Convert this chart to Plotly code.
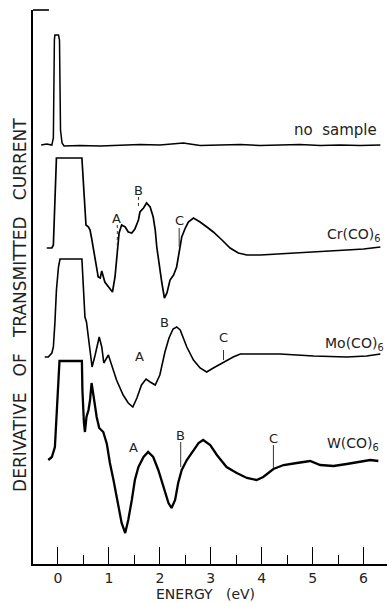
import plotly.graph_objects as go

# ---------------- data (energy in eV, signal in arbitrary offset units) -------------
ns_e = [-0.33, -0.22, -0.12, -0.09, -0.07, -0.06, 0.01, 0.03, 0.05, 0.08, 0.12, 0.43, 0.83, 1.22,
        1.61, 2.00, 2.46, 2.79, 3.18, 3.58, 3.97, 4.36, 4.75, 5.15, 5.54, 5.93, 6.33]
ns_y = [41.9, 42.0, 41.9, 42.6, 52.4, 52.9, 52.9, 52.4, 43.4, 42.1, 41.8, 41.85, 41.8, 41.9,
        41.95, 41.9, 42.1, 41.85, 41.9, 41.95, 41.85, 41.9, 41.95, 41.85, 41.9, 41.85, 41.9]

cr_e = [-0.22, -0.12, -0.09, -0.06, -0.03, 0.47, 0.50, 0.55, 0.60, 0.63, 0.66, 0.73, 0.79, 0.83,
        0.86, 0.92, 0.99, 1.07, 1.12, 1.17, 1.20, 1.25, 1.32, 1.38, 1.45, 1.51, 1.58, 1.61, 1.68,
        1.74, 1.81, 1.87, 1.91, 1.94, 1.99, 2.04, 2.09, 2.14, 2.20, 2.27, 2.33, 2.38, 2.43, 2.50,
        2.56, 2.66, 2.79, 2.95, 3.05, 3.22, 3.38, 3.54, 3.71, 3.97, 4.36, 4.69, 5.02, 5.34, 5.67,
        6.00, 6.33]
cr_y = [31.6, 31.6, 31.9, 36.4, 40.6, 40.6, 38.1, 33.9, 33.7, 33.4, 32.6, 30.4, 28.7, 28.6,
        29.3, 28.2, 27.7, 27.2, 28.7, 31.4, 33.1, 33.9, 33.7, 33.2, 33.1, 33.5, 34.4, 35.2, 35.6,
        36.1, 35.7, 34.7, 33.4, 31.7, 29.7, 28.1, 26.6, 27.1, 28.4, 28.9, 29.7, 31.1, 32.7, 33.6,
        34.2, 34.6, 34.2, 33.6, 33.2, 32.4, 31.6, 31.1, 30.9, 30.9, 31.0, 31.1, 31.2, 31.3, 31.4,
        31.5, 31.7]

mo_e = [-0.26, -0.19, -0.12, -0.09, -0.06, -0.03, 0.01, 0.04, 0.47, 0.50, 0.53, 0.56, 0.60, 0.63,
        0.67, 0.73, 0.81, 0.86, 0.90, 0.99, 1.05, 1.15, 1.28, 1.38, 1.47, 1.55, 1.64, 1.73, 1.81,
        1.91, 2.00, 2.10, 2.18, 2.26, 2.33, 2.40, 2.53, 2.66, 2.79, 2.92, 3.05, 3.25, 3.44, 3.58,
        4.03, 4.36, 5.02, 5.67, 6.06, 6.33]
mo_y = [20.7, 20.7, 21.1, 21.7, 24.1, 27.4, 29.7, 30.5, 30.5, 27.7, 24.7, 24.2, 22.7, 21.4,
        19.7, 20.9, 22.7, 21.7, 20.1, 20.9, 20.0, 18.4, 16.9, 16.1, 15.7, 16.6, 17.9, 18.5, 18.2,
        17.9, 18.9, 21.2, 22.6, 23.5, 23.7, 23.4, 21.7, 20.4, 19.6, 19.2, 19.6, 20.2, 20.7, 21.0,
        21.0, 21.0, 20.8, 20.7, 20.8, 21.0]

w_e = [-0.19, -0.12, -0.06, -0.03, 0.01, 0.03, 0.47, 0.48, 0.51, 0.53, 0.56, 0.60, 0.63, 0.66,
       0.69, 0.76, 0.81, 0.89, 0.96, 1.02, 1.09, 1.18, 1.25, 1.32, 1.38, 1.45, 1.51, 1.58, 1.68,
       1.77, 1.87, 1.97, 2.07, 2.17, 2.23, 2.30, 2.36, 2.43, 2.53, 2.66, 2.76, 2.85, 2.99, 3.12,
       3.31, 3.51, 3.71, 3.90, 4.03, 4.23, 4.43, 4.69, 4.95, 5.15, 5.41, 5.67, 5.93, 6.13, 6.29]
w_y = [10.4, 10.7, 11.7, 14.4, 19.1, 20.3, 20.3, 17.4, 14.1, 13.2, 14.7, 15.4, 16.4, 18.1,
       17.1, 14.7, 13.6, 13.2, 12.0, 10.1, 8.4, 6.1, 4.1, 3.1, 4.4, 6.4, 8.4, 9.7, 10.7,
       11.2, 10.7, 9.4, 7.7, 6.1, 5.6, 6.4, 8.1, 9.4, 10.4, 11.4, 12.1, 12.4, 11.9, 10.9,
       9.7, 9.1, 8.6, 8.4, 8.7, 9.5, 9.9, 10.1, 10.3, 9.9, 9.8, 10.0, 10.2, 10.4, 10.3]

# feature markers (A, B, C) : energy, text position, marker line extent
feat_text = ["A", "B", "C", "A", "B", "C", "A", "B", "C"]
feat_text_e = [1.15, 1.58, 2.38, 1.60, 2.10, 3.25, 1.48, 2.41, 4.23]
feat_text_y = [34.6, 37.4, 34.4, 20.8, 24.2, 22.7, 11.7, 12.9, 12.6]
mark_e = [1.165, 1.58, 2.38, 3.25, 2.41, 4.23]
mark_y0 = [33.9, 36.7, 33.6, 21.4, 12.2, 11.9]
mark_y1 = [31.7, 35.7, 31.7, 20.4, 9.7, 9.6]
mark_dash = ["dot", "dot", "solid", "solid", "solid", "solid"]

curve_labels = ["no  sample", "Cr(CO)<sub>6</sub>", "Mo(CO)<sub>6</sub>", "W(CO)<sub>6</sub>"]
curve_label_e = [6.31, 5.25, 5.21, 5.25]
curve_label_y = [43.4, 32.9, 22.0, 12.0]
curve_label_anchor = ["right", "left", "left", "left"]
curve_label_size = [15, 14, 14, 14]

x_range = [-0.49, 6.46]
y_range = [0, 55.4]

# ---------------- figure ----------------
FONT = "DejaVu Sans"
fig = go.Figure()
for e, y, w in [(ns_e, ns_y, 1.5), (cr_e, cr_y, 1.7), (mo_e, mo_y, 1.6), (w_e, w_y, 2.3)]:
    fig.add_trace(go.Scatter(x=e, y=y, mode="lines", line=dict(color="black", width=w),
                             hoverinfo="skip", showlegend=False))

for e, y0, y1, d in zip(mark_e, mark_y0, mark_y1, mark_dash):
    fig.add_trace(go.Scatter(x=[e, e], y=[y0, y1], mode="lines",
                             line=dict(color="#333", width=1, dash=d),
                             hoverinfo="skip", showlegend=False))

for t, e, y in zip(feat_text, feat_text_e, feat_text_y):
    fig.add_annotation(x=e, y=y, text=t, showarrow=False, xanchor="center", yanchor="middle",
                       font=dict(family=FONT, size=13, color="#222"))

for t, e, y, a, s in zip(curve_labels, curve_label_e, curve_label_y, curve_label_anchor,
                         curve_label_size):
    fig.add_annotation(x=e, y=y, text=t, showarrow=False, xanchor=a, yanchor="middle",
                       font=dict(family=FONT, size=s, color="#222"))

fig.add_annotation(xref="paper", yref="paper", x=0.486, y=-0.054, text="ENERGY   (eV)",
                   showarrow=False, xanchor="center", yanchor="middle",
                   font=dict(family=FONT, size=14, color="#222"))
fig.add_annotation(xref="paper", yref="paper", x=-0.037, y=0.4675,
                   text="DERIVATIVE   OF   TRANSMITTED   CURRENT", textangle=-90,
                   showarrow=False, xanchor="center", yanchor="middle",
                   font=dict(family=FONT, size=17, color="#222"))

fig.add_shape(type="line", xref="paper", yref="paper", x0=0, x1=0.045, y0=1, y1=1,
              line=dict(color="black", width=1.6))

fig.update_layout(
    width=389, height=603,
    margin=dict(l=33, r=2, t=10, b=39),
    paper_bgcolor="white", plot_bgcolor="white",
    showlegend=False,
    xaxis=dict(range=x_range, showline=True, linecolor="black", linewidth=1.6,
               ticks="inside", ticklen=17, tickwidth=1.2, tickcolor="black",
               tick0=0, dtick=1, showgrid=False, zeroline=False,
               minor=dict(dtick=0.5, tick0=0, ticks="inside", ticklen=9, tickwidth=1.2,
                          tickcolor="black", showgrid=False),
               tickfont=dict(family=FONT, size=14, color="#222"), ticklabelstandoff=0),
    yaxis=dict(range=y_range, showline=True, linecolor="black", linewidth=1.6,
               showticklabels=False, ticks="", showgrid=False, zeroline=False),
)

fig.write_html("out.html", config={"displayModeBar": False},
               post_script="document.body.style.margin='0';document.body.style.overflow='hidden';")
